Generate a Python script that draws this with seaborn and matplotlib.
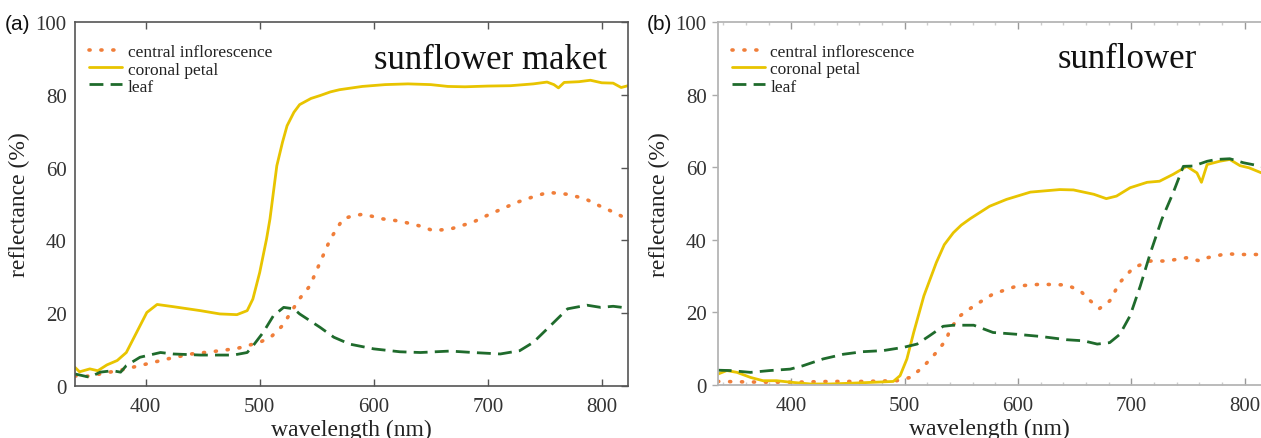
import matplotlib
matplotlib.use("Agg")
import matplotlib.pyplot as plt
import seaborn as sns
import pandas as pd
import numpy as np

# ---------------- data: panel (a) sunflower maket ----------------
a_petal_wl = [338, 342, 351, 358, 366, 375, 383, 392, 401, 410, 424, 448, 465, 480, 489, 494, 500, 506, 509,
              515, 520, 524, 530, 535, 545, 553, 562, 570, 590, 610, 630, 650, 665, 680, 700, 720, 740, 752, 758,
              762, 767, 780, 790, 800, 810, 817, 823]
a_petal_r = [5.1, 3.9, 4.7, 4.2, 5.8, 7.0, 9.2, 14.7, 20.2, 22.4, 21.8, 20.7, 19.8, 19.6, 20.7, 23.9, 31.2, 40.4, 45.9,
             60.5, 67.0, 71.5, 75.2, 77.3, 79.0, 79.8, 80.8, 81.4, 82.3, 82.8, 83.0, 82.8, 82.3, 82.2, 82.4, 82.5, 83.0,
             83.5, 82.8, 81.9, 83.4, 83.6, 84.0, 83.3, 83.2, 82.0, 82.5]

a_infl_wl = [338, 345, 360, 380, 400, 420, 440, 460, 480, 500, 510, 520, 535, 544, 553, 562, 573, 582, 591, 608,
             623, 640, 652, 667, 687, 699, 712, 726, 740, 753, 769, 785, 798, 810, 819, 823]
a_infl_r = [2.8, 2.5, 3.3, 4.5, 6.0, 7.5, 8.8, 9.5, 10.3, 12.0, 13.5, 16.6, 24.0, 27.5, 34.0, 40.4, 45.9, 46.8, 47.2, 45.9,
            45.3, 44.0, 42.7, 43.1, 45.0, 46.8, 48.6, 50.5, 52.0, 53.2, 52.7, 51.5, 49.5, 47.8, 46.4, 45.5]

a_leaf_wl = [338, 351, 360, 371, 378, 383, 395, 413, 424, 448, 477, 489, 494, 503, 512, 521, 530, 535, 553, 565,
             579, 600, 623, 641, 667, 687, 711, 728, 740, 758, 770, 787, 799, 810, 823]
a_leaf_r = [3.3, 2.4, 3.8, 4.2, 3.8, 5.6, 7.9, 9.2, 8.8, 8.5, 8.5, 9.2, 11.0, 14.7, 19.3, 21.6, 21.2, 19.8, 16.1, 13.4,
            11.5, 10.2, 9.4, 9.2, 9.6, 9.2, 8.8, 9.7, 12.0, 17.5, 21.2, 22.2, 21.6, 21.9, 21.4]

# ---------------- data: panel (b) sunflower ----------------
b_petal_wl = [335, 343, 352, 364, 375, 387, 399, 417, 434, 452, 475, 490, 496, 502, 508, 517, 528, 535, 543, 550,
              558, 575, 590, 611, 637, 649, 667, 678, 687, 699, 714, 725, 737, 749, 758, 762, 767, 778, 787, 796,
              804, 815]
b_petal_r = [2.9, 3.9, 3.4, 2.0, 1.1, 1.1, 0.7, 0.2, 0.2, 0.4, 0.7, 0.9, 2.5, 7.1, 14.4, 24.5, 33.7, 38.6, 41.9, 44.0,
             45.8, 49.2, 51.1, 53.1, 53.8, 53.7, 52.5, 51.3, 52.0, 54.3, 55.8, 56.1, 58.0, 60.2, 58.4, 55.8, 60.7, 61.6,
             62.1, 60.4, 59.8, 58.4]

b_infl_wl = [335, 375, 405, 434, 463, 493, 505, 516, 528, 537, 540, 549, 561, 578, 599, 620, 643, 655, 664, 672,
             681, 690, 702, 717, 731, 749, 761, 767, 784, 796, 815]
b_infl_r = [0.9, 0.7, 0.7, 0.9, 0.9, 1.1, 2.0, 4.8, 8.9, 12.5, 15.3, 19.0, 21.7, 25.0, 27.2, 27.7, 27.5, 25.9, 23.1, 21.0,
            23.1, 28.2, 32.3, 34.1, 34.1, 35.0, 34.1, 35.0, 36.1, 35.9, 35.9]

b_leaf_wl = [335, 346, 364, 381, 399, 410, 428, 446, 463, 481, 499, 511, 522, 534, 543, 561, 578, 599, 620, 643,
             658, 670, 681, 690, 699, 708, 717, 727, 737, 746, 755, 767, 775, 787, 799, 815]
b_leaf_r = [4.0, 3.9, 3.4, 3.9, 4.3, 5.2, 7.1, 8.4, 9.1, 9.4, 10.3, 11.2, 13.5, 16.1, 16.4, 16.4, 14.4, 13.9, 13.3, 12.4,
            12.1, 11.2, 11.6, 13.9, 19.0, 27.2, 36.4, 45.6, 52.9, 60.2, 60.3, 61.6, 62.1, 62.3, 61.2, 60.2]

series_names = ["central inflorescence", "coronal petal", "leaf"]
x_ticks = [400, 500, 600, 700, 800]
y_ticks = [0, 20, 40, 60, 80, 100]

# ---------------- styling ----------------
sns.set_theme(style="white")
plt.rcParams['font.family'] = ['Liberation Serif', 'DejaVu Serif']

col_infl = "#F07E3A"
col_petal = "#E8C400"
col_leaf = "#1F6B2C"

fig = plt.figure(figsize=(12.61, 4.39), dpi=100)
axA = fig.add_axes([75 / 1261, (439 - 387) / 439, (628 - 75) / 1261, (387 - 23) / 439])
axB = fig.add_axes([717.7 / 1261, (439 - 385.7) / 439, (1261.5 - 717.7) / 1261, (385.7 - 23) / 439])


def draw(ax, infl, petal, leaf):
    d1 = pd.DataFrame({"wl": infl[0], "r": infl[1]})
    d2 = pd.DataFrame({"wl": petal[0], "r": petal[1]})
    d3 = pd.DataFrame({"wl": leaf[0], "r": leaf[1]})
    sns.lineplot(data=d1, x="wl", y="r", ax=ax, color=col_infl, lw=2.6, label=series_names[0])
    sns.lineplot(data=d2, x="wl", y="r", ax=ax, color=col_petal, lw=2.0, label=series_names[1])
    sns.lineplot(data=d3, x="wl", y="r", ax=ax, color=col_leaf, lw=2.0, label=series_names[2])
    lines = ax.get_lines()
    lines[0].set_linestyle((0, (0.3, 3.0)))
    lines[0].set_dash_capstyle("round")
    lines[2].set_linestyle((0, (5, 2.6)))
    return lines


draw(axA, (a_infl_wl, a_infl_r), (a_petal_wl, a_petal_r), (a_leaf_wl, a_leaf_r))
draw(axB, (b_infl_wl, b_infl_r), (b_petal_wl, b_petal_r), (b_leaf_wl, b_leaf_r))

for ax, xl in [(axA, (338, 823)), (axB, (335, 815))]:
    ax.set_xlim(*xl)
    ax.set_ylim(0, 100)
    ax.set_xticks(x_ticks)
    ax.set_yticks(y_ticks)
    ax.set_xlabel("wavelength (nm)", fontsize=17, color="#222222", labelpad=2)
    ax.set_ylabel("reflectance (%)", fontsize=17, color="#222222", labelpad=4)
    ax.tick_params(labelsize=15, labelcolor="#333333")
    leg = ax.legend(loc="upper left", frameon=False, fontsize=12.5, handlelength=1.9,
                    handletextpad=0.3, labelspacing=0.05, borderaxespad=0.3,
                    bbox_to_anchor=(0.004, 0.972))
    for t in leg.get_texts():
        t.set_color("#222222")

# panel (a) frame
for s in axA.spines.values():
    s.set_color("#555555")
    s.set_linewidth(1.2)
axA.tick_params(axis="x", direction="in", length=5, width=1, color="#555555", top=True, bottom=True, pad=8)
axA.tick_params(axis="y", direction="in", length=5, width=1, color="#555555", left=False, right=True, pad=6)

# panel (b) frame
for s in axB.spines.values():
    s.set_color("#b5b5b5")
    s.set_linewidth(1.3)
axB.spines["right"].set_visible(False)
axB.set_xticks(np.arange(340, 816, 20), minor=True)
axB.tick_params(axis="x", which="major", direction="in", length=5, width=1, color="#999999", top=True, bottom=True, pad=8)
axB.tick_params(axis="x", which="minor", direction="in", length=2, width=1, color="#cccccc", top=True, bottom=True)
axB.tick_params(axis="y", direction="out", length=4, width=1, color="#aaaaaa", left=True, right=False, pad=4)

axA.text(0.962, 0.898, "sunflower maket", transform=axA.transAxes, ha="right", va="center",
         fontsize=25, color="#111111")
axB.text(0.754, 0.898, "sunflower", transform=axB.transAxes, ha="center", va="center",
         fontsize=25, color="#111111")

fig.text(5 / 1261, 1 - 25 / 439, "(a)", fontsize=15, family=["Liberation Sans", "DejaVu Sans"],
         ha="left", va="center", color="#111111")
fig.text(647 / 1261, 1 - 24 / 439, "(b)", fontsize=15, family=["Liberation Sans", "DejaVu Sans"],
         ha="left", va="center", color="#111111")

fig.savefig("out.png", dpi=100)
